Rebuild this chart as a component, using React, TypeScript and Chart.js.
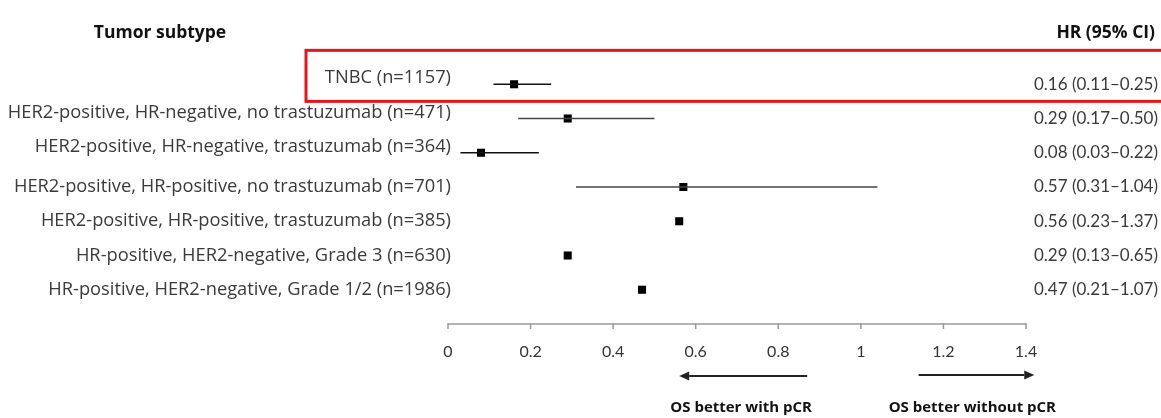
import React, { useEffect, useRef } from "react";
import { Chart, registerables } from "chart.js";

Chart.register(...registerables);

const subtypes = [
  "TNBC (n=1157)",
  "HER2-positive, HR-negative, no trastuzumab (n=471)",
  "HER2-positive, HR-negative, trastuzumab (n=364)",
  "HER2-positive, HR-positive, no trastuzumab (n=701)",
  "HER2-positive, HR-positive, trastuzumab (n=385)",
  "HR-positive, HER2-negative, Grade 3 (n=630)",
  "HR-positive, HER2-negative, Grade 1/2 (n=1986)",
];
const hr = [0.16, 0.29, 0.08, 0.57, 0.56, 0.29, 0.47];
const ciLow = [0.11, 0.17, 0.03, 0.31, 0.23, 0.13, 0.21];
const ciHigh = [0.25, 0.5, 0.22, 1.04, 1.37, 0.65, 1.07];
const whiskerShown = [true, true, true, true, false, false, false];
const ciText = [
  "0.16 (0.11–0.25)",
  "0.29 (0.17–0.50)",
  "0.08 (0.03–0.22)",
  "0.57 (0.31–1.04)",
  "0.56 (0.23–1.37)",
  "0.29 (0.13–0.65)",
  "0.47 (0.21–1.07)",
];
const tickValues = [0, 0.2, 0.4, 0.6, 0.8, 1, 1.2, 1.4];
const tickLabels = ["0", "0.2", "0.4", "0.6", "0.8", "1", "1.2", "1.4"];
const leftHeader = "Tumor subtype";
const rightHeader = "HR (95% CI)";
const leftArrowLabel = "OS better with pCR";
const rightArrowLabel = "OS better without pCR";

const LATO = "Lato, sans-serif";
const OPEN = "'Open Sans', sans-serif";

function arrow(ctx: CanvasRenderingContext2D, x0: number, x1: number, y: number) {
  const dir = x1 > x0 ? 1 : -1;
  const head = 10;
  ctx.save();
  ctx.strokeStyle = "#222";
  ctx.fillStyle = "#222";
  ctx.lineWidth = 2;
  ctx.beginPath();
  ctx.moveTo(x0, y);
  ctx.lineTo(x1 - dir * head, y);
  ctx.stroke();
  ctx.beginPath();
  ctx.moveTo(x1, y);
  ctx.lineTo(x1 - dir * head, y - 4.5);
  ctx.lineTo(x1 - dir * head, y + 4.5);
  ctx.closePath();
  ctx.fill();
  ctx.restore();
}

const forestPlugin = {
  id: "forestDecor",
  afterDatasetsDraw(chart: any) {
    const ctx: CanvasRenderingContext2D = chart.ctx;
    const xs = chart.scales.x;
    const ys = chart.scales.y;
    ctx.save();

    // headers
    ctx.fillStyle = "#111";
    ctx.font = `bold 17.5px ${OPEN}`;
    ctx.textBaseline = "middle";
    ctx.textAlign = "center";
    ctx.fillText(leftHeader, 160, 33);
    ctx.textAlign = "right";
    ctx.fillText(rightHeader, 1155, 33);

    // row labels and values
    subtypes.forEach((s, i) => {
      const y = ys.getPixelForValue(i);
      ctx.textAlign = "right";
      ctx.fillStyle = "#3a3a3a";
      ctx.font = `18.3px ${OPEN}`;
      ctx.fillText(s, 451, y - (i < 3 ? 6 : 0));
      ctx.font = `17px ${LATO}`;
      ctx.fillText(ciText[i], 1158, y);
    });

    // red highlight box
    const top = ys.getPixelForValue(-0.99);
    const bottom = ys.getPixelForValue(0.5);
    ctx.strokeStyle = "#e3161b";
    ctx.lineWidth = 3;
    ctx.strokeRect(306, top, 900, bottom - top);

    // x axis
    const axisY = ys.getPixelForValue(7);
    ctx.strokeStyle = "#9a9a9a";
    ctx.lineWidth = 1.5;
    ctx.beginPath();
    ctx.moveTo(xs.getPixelForValue(tickValues[0]), axisY);
    ctx.lineTo(xs.getPixelForValue(tickValues[tickValues.length - 1]), axisY);
    ctx.stroke();
    ctx.font = `16px ${LATO}`;
    ctx.fillStyle = "#333";
    ctx.textAlign = "center";
    tickValues.forEach((v, i) => {
      const x = xs.getPixelForValue(v);
      ctx.beginPath();
      ctx.moveTo(x, axisY - 1);
      ctx.lineTo(x, axisY + 5);
      ctx.stroke();
      ctx.fillText(tickLabels[i], x, axisY + 28);
    });

    // direction arrows
    const arrowY = axisY + 52;
    arrow(ctx, xs.getPixelForValue(0.87), xs.getPixelForValue(0.56), arrowY);
    arrow(ctx, xs.getPixelForValue(1.14), xs.getPixelForValue(1.42), arrowY - 1);
    ctx.font = `bold 15px ${OPEN}`;
    ctx.fillStyle = "#111";
    ctx.fillText(leftArrowLabel, xs.getPixelForValue(0.71), axisY + 84);
    ctx.fillText(rightArrowLabel, xs.getPixelForValue(1.27), axisY + 84);
    ctx.restore();
  },
};

export default function App() {
  const ref = useRef<HTMLCanvasElement>(null);
  useEffect(() => {
    if (!ref.current) return;
    const whiskers = subtypes
      .map((_, i) => i)
      .filter((i) => whiskerShown[i])
      .map((i) => ({
        type: "line" as const,
        data: [
          { x: ciLow[i], y: i },
          { x: ciHigh[i], y: i },
        ],
        borderColor: i === 1 || i === 3 ? "#444" : "#111",
        borderWidth: 1.5,
        pointRadius: 0,
        showLine: true,
      }));
    const chart = new Chart(ref.current, {
      type: "scatter",
      data: {
        datasets: [
          ...whiskers,
          {
            type: "scatter" as const,
            data: hr.map((v, i) => ({ x: v, y: i })),
            pointStyle: "rect",
            pointRadius: 5.7,
            pointHoverRadius: 5.7,
            backgroundColor: "#000",
            borderColor: "#000",
            borderWidth: 0,
          },
        ] as any,
      },
      options: {
        animation: false,
        responsive: false,
        maintainAspectRatio: false,
        layout: { padding: { left: 448, right: 135, top: 50, bottom: 94 } },
        plugins: { legend: { display: false }, tooltip: { enabled: false } },
        scales: {
          x: { type: "linear", min: 0, max: 1.4, display: false },
          y: { type: "linear", min: -1, max: 7, reverse: true, display: false },
        },
      },
      plugins: [forestPlugin],
    });
    return () => chart.destroy();
  }, []);
  return (
    <div style={{ position: "fixed", left: 0, top: 0, width: 1161, height: 418, background: "#fff" }}>
      <canvas ref={ref} width={1161} height={418} style={{ width: 1161, height: 418, display: "block" }} />
    </div>
  );
}
